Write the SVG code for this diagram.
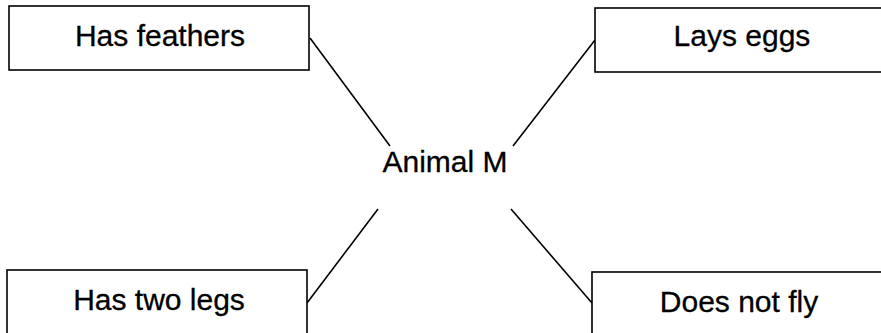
<svg xmlns="http://www.w3.org/2000/svg" width="881" height="333" viewBox="0 0 881 333">
<style>
.box{fill:#fff;stroke:#000;stroke-width:1.6}
.lbl{font-family:"Liberation Sans",Arial,sans-serif;font-size:30px;fill:#000;stroke:#000;stroke-width:0.3;text-anchor:middle}
.con line{stroke:#000;stroke-width:1.6}
</style>
<rect width="881" height="333" fill="#fff"/>
<g id="connectors" class="con">
<line x1="310" y1="38" x2="390" y2="146"/>
<line x1="595" y1="40" x2="513" y2="146"/>
<line x1="378" y1="209" x2="307" y2="303"/>
<line x1="511" y1="209" x2="592" y2="303"/>
</g>
<g id="has-feathers">
<rect class="box" x="9" y="6" width="300" height="64"/>
<text class="lbl" x="160" y="46">Has feathers</text>
</g>
<g id="lays-eggs">
<rect class="box" x="595" y="8" width="300" height="64"/>
<text class="lbl" x="742" y="46">Lays eggs</text>
</g>
<g id="animal-m">
<text class="lbl" x="445" y="172">Animal M</text>
</g>
<g id="has-two-legs">
<rect class="box" x="7" y="270" width="300" height="80"/>
<text class="lbl" x="159" y="310">Has two legs</text>
</g>
<g id="does-not-fly">
<rect class="box" x="592" y="272" width="300" height="80"/>
<text class="lbl" x="739" y="312">Does not fly</text>
</g>
</svg>
